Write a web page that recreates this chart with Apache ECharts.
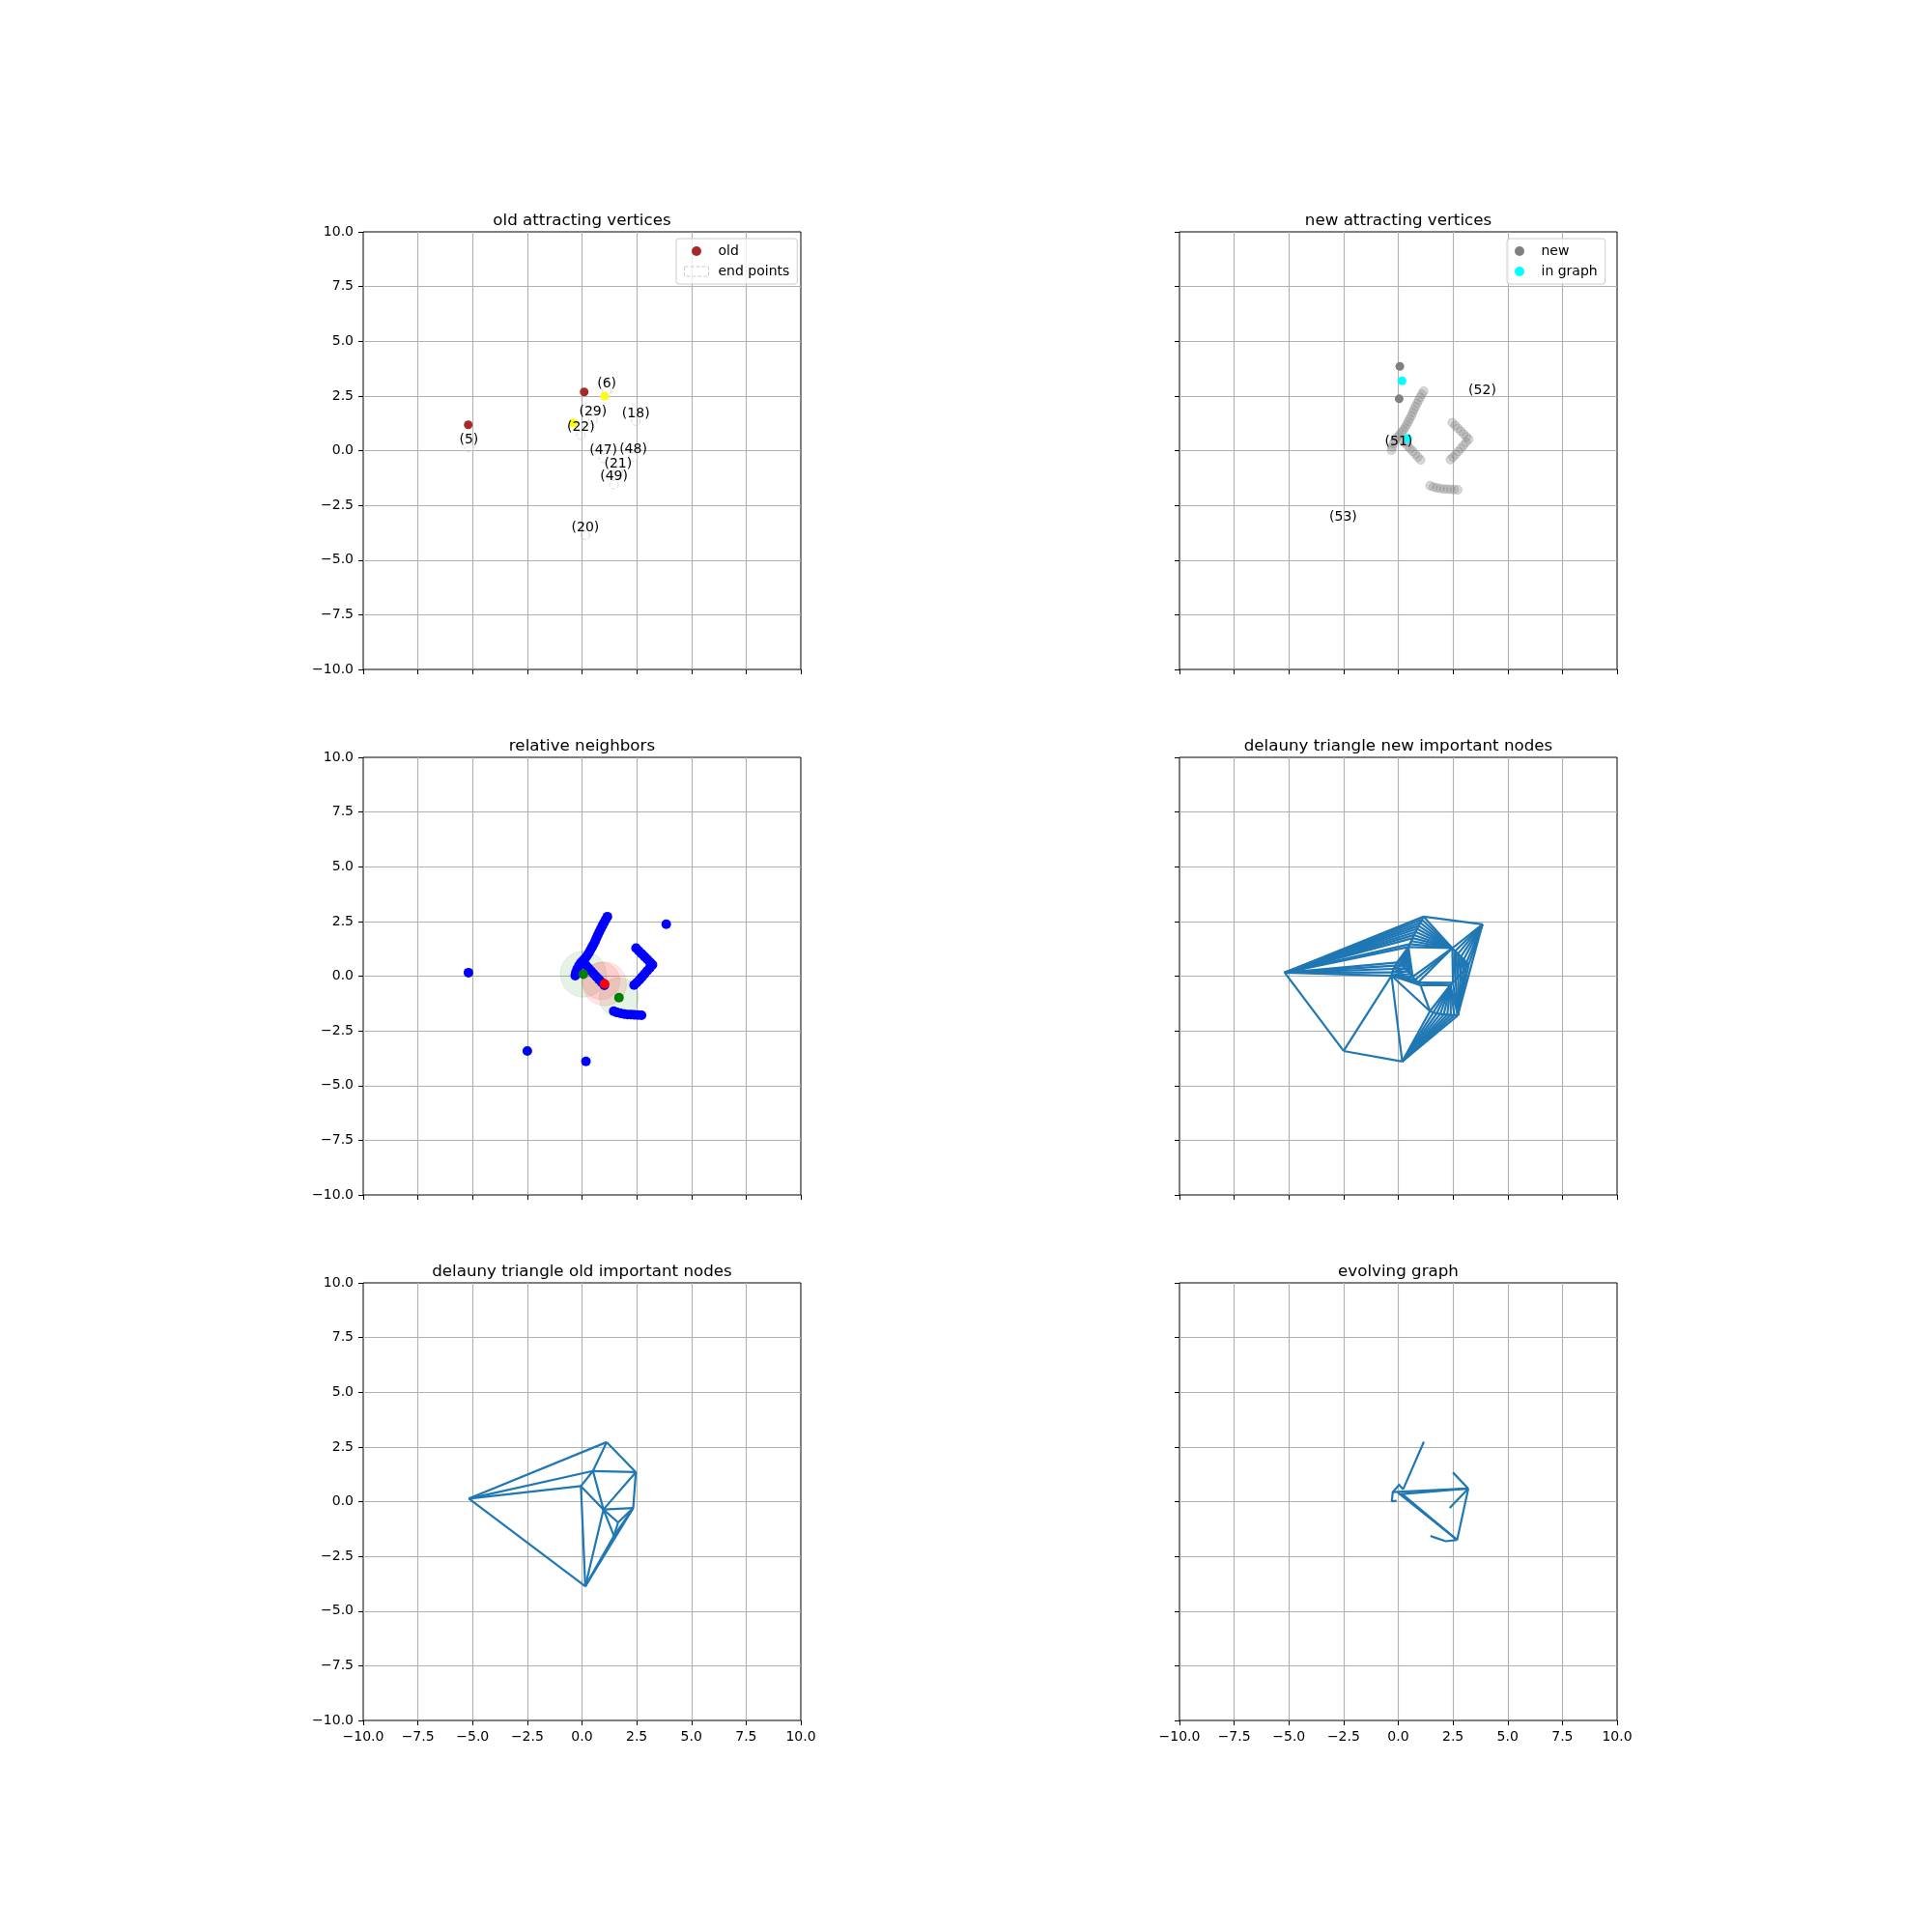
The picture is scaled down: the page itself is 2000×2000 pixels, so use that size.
<!DOCTYPE html>
<html>
<head>
<meta charset="utf-8">
<script src="https://cdn.jsdelivr.net/npm/echarts@6/dist/echarts.min.js"></script>
<style>
  body { margin: 0; background: #fff; }
  #chart { width: 2000px; height: 2000px; }
</style>
</head>
<body>
<div id="chart"></div>
<script>
  // panel titles
  var titles = ['old attracting vertices', 'new attracting vertices', 'relative neighbors',
    'delauny triangle new important nodes', 'delauny triangle old important nodes', 'evolving graph'];

  // old attracting vertices
  var oldPts = [[0.1, 2.68], [-5.2, 1.18]];
  var yellowPts = [[1.04, 2.49], [-0.41, 1.27]];
  var endNames = ['(5)', '(6)', '(29)', '(22)', '(18)', '(47)', '(48)', '(21)', '(49)', '(20)'];
  var endPts = [[-5.17, 0.14], [1.13, 2.72], [0.5, 1.4], [-0.05, 0.71], [2.46, 1.35],
    [0.98, -0.36], [2.34, -0.29], [1.65, -0.95], [1.46, -1.56], [0.15, -3.87]];

  // new attracting vertices
  var newPts = [[0.07, 3.85], [0.04, 2.37]];
  var inGraphPts = [[0.17, 3.19], [0.43, 0.56]];
  var newNames = ['(51)', '(52)', '(53)'];
  var newLabelPts = [[0.02, 0.06], [3.84, 2.39], [-2.52, -3.4]];
  var trailPts = [
    [1.16, 2.72], [1.08, 2.58], [1.0, 2.44], [0.93, 2.3], [0.86, 2.16], [0.79, 2.02], [0.72, 1.88],
    [0.66, 1.74], [0.6, 1.6], [0.53, 1.46], [0.46, 1.33], [0.39, 1.2], [0.32, 1.07], [0.24, 0.95],
    [0.16, 0.84], [0.06, 0.73],
    [-0.05, 0.62], [-0.14, 0.48], [-0.22, 0.33], [-0.28, 0.17], [-0.31, 0.02],
    [0.18, 0.5], [0.3, 0.36], [0.42, 0.23], [0.54, 0.1], [0.66, -0.03], [0.78, -0.16], [0.9, -0.29], [1.02, -0.42],
    [2.47, 1.28], [2.6, 1.15], [2.73, 1.02], [2.86, 0.89], [2.99, 0.76], [3.12, 0.63], [3.22, 0.52],
    [3.1, 0.38], [2.98, 0.24], [2.86, 0.1], [2.74, -0.04], [2.62, -0.18], [2.5, -0.3], [2.38, -0.41],
    [1.45, -1.6], [1.6, -1.66], [1.76, -1.7], [1.92, -1.73], [2.08, -1.75], [2.24, -1.76], [2.4, -1.77],
    [2.56, -1.78], [2.72, -1.79]
  ];

  // relative neighbors
  var outlierPts = [[-5.19, 0.16], [-2.5, -3.42], [0.18, -3.9], [3.85, 2.37]];
  var redPts = [[1.03, -0.35]];
  var greenPts = [[0.06, 0.09], [1.69, -0.98]];
  var greenCircles = [[0.06, 0.09, 1.05], [1.69, -0.98, 0.9]];
  var redCircles = [[1.03, -0.35, 1.0], [0.88, -0.22, 0.85]];

  // evolving graph
  var graphEdges = [
    [[1.17, 2.74], [0.22, 0.56]],
    [[-0.3, 0.0], [-0.25, 0.44], [0.04, 0.77], [0.22, 0.56]],
    [[-0.3, 0.02], [-0.08, 0.04]],
    [[-0.25, 0.44], [3.2, 0.6]],
    [[0.04, 0.34], [3.2, 0.6]],
    [[2.5, 1.33], [3.2, 0.6]],
    [[3.2, 0.6], [2.35, -0.29]],
    [[3.2, 0.6], [2.69, -1.75]],
    [[-0.03, 0.42], [2.69, -1.75]],
    [[0.19, 0.34], [2.69, -1.75]],
    [[2.69, -1.75], [2.17, -1.81], [1.73, -1.66], [1.47, -1.57]]
  ];

  var gridPos = [[376, 240], [1221, 240], [376, 784], [1221, 784], [376, 1328], [1221, 1328]];
  var side = 453;
  var font = 'DejaVu Sans';
  var tab = '#1f77b4';

  function fmt(v) {
    return (v < 0 ? '\u2212' : '') + Math.abs(v).toFixed(1);
  }

  // Bowyer-Watson, returns unique edges as coordinate pairs
  function delaunayEdges(pts) {
    var P = pts.map(function (p) { return [p[0], p[1]]; });
    var n = P.length, M = 1000;
    P.push([-M, -M], [M, -M], [0, M]);
    function circ(t) {
      var a = P[t[0]], b = P[t[1]], c = P[t[2]];
      var d = 2 * (a[0] * (b[1] - c[1]) + b[0] * (c[1] - a[1]) + c[0] * (a[1] - b[1]));
      if (Math.abs(d) < 1e-12) d = 1e-12;
      var a2 = a[0] * a[0] + a[1] * a[1], b2 = b[0] * b[0] + b[1] * b[1], c2 = c[0] * c[0] + c[1] * c[1];
      var ux = (a2 * (b[1] - c[1]) + b2 * (c[1] - a[1]) + c2 * (a[1] - b[1])) / d;
      var uy = (a2 * (c[0] - b[0]) + b2 * (a[0] - c[0]) + c2 * (b[0] - a[0])) / d;
      return [ux, uy, (a[0] - ux) * (a[0] - ux) + (a[1] - uy) * (a[1] - uy)];
    }
    var tris = [{v: [n, n + 1, n + 2]}];
    tris[0].c = circ(tris[0].v);
    for (var i = 0; i < n; i++) {
      var p = P[i], keep = [], cnt = {};
      tris.forEach(function (t) {
        var dx = p[0] - t.c[0], dy = p[1] - t.c[1];
        if (dx * dx + dy * dy < t.c[2]) {
          [[t.v[0], t.v[1]], [t.v[1], t.v[2]], [t.v[2], t.v[0]]].forEach(function (e) {
            var k = Math.min(e[0], e[1]) + '_' + Math.max(e[0], e[1]);
            if (cnt[k]) cnt[k].n++; else cnt[k] = {n: 1, e: e};
          });
        } else {
          keep.push(t);
        }
      });
      Object.keys(cnt).forEach(function (k) {
        if (cnt[k].n === 1) {
          var t = {v: [cnt[k].e[0], cnt[k].e[1], i]};
          t.c = circ(t.v);
          keep.push(t);
        }
      });
      tris = keep;
    }
    var seen = {}, out = [];
    tris.forEach(function (t) {
      if (t.v[0] >= n || t.v[1] >= n || t.v[2] >= n) return;
      [[t.v[0], t.v[1]], [t.v[1], t.v[2]], [t.v[2], t.v[0]]].forEach(function (e) {
        var k = Math.min(e[0], e[1]) + '_' + Math.max(e[0], e[1]);
        if (!seen[k]) { seen[k] = 1; out.push([P[e[0]], P[e[1]]]); }
      });
    });
    return out;
  }

  function circleItem(fill) {
    return function (params, api) {
      var c = api.coord([api.value(0), api.value(1)]);
      var s = api.size([api.value(2), api.value(2)]);
      return {type: 'circle', shape: {cx: c[0], cy: c[1], r: s[0]}, style: {fill: fill, stroke: fill, lineWidth: 1}};
    };
  }

  var grids = [], xAxes = [], yAxes = [], titleList = [];
  gridPos.forEach(function (g, i) {
    grids.push({left: g[0], top: g[1], width: side, height: side, show: true,
      borderColor: '#000', borderWidth: 1, backgroundColor: '#fff'});
    titleList.push({text: titles[i], left: g[0] + side / 2, top: g[1] - 20, textAlign: 'center', padding: 0,
      textStyle: {fontFamily: font, fontSize: 16.7, fontWeight: 'normal', color: '#000'}});
    var axisBase = {
      type: 'value', gridIndex: i, min: -10, max: 10, interval: 2.5,
      axisLine: {show: false, onZero: false},
      axisTick: {show: true, inside: false, length: 5, lineStyle: {color: '#000', width: 1}},
      splitLine: {show: true, showMinLine: false, showMaxLine: false, lineStyle: {color: '#b0b0b0', width: 1.1}}
    };
    xAxes.push(Object.assign({}, axisBase, {
      position: 'bottom',
      axisLabel: {show: i >= 4, margin: 10, formatter: fmt, color: '#000', fontFamily: font, fontSize: 14}
    }));
    yAxes.push(Object.assign({}, axisBase, {
      position: 'left',
      axisLabel: {show: i % 2 === 0, margin: 10, formatter: fmt, color: '#000', fontFamily: font, fontSize: 14}
    }));
  });

  function scatter(name, idx, data, size, style, extra) {
    return Object.assign({name: name, type: 'scatter', xAxisIndex: idx, yAxisIndex: idx,
      symbolSize: size, itemStyle: Object.assign({opacity: 1}, style), data: data, silent: true}, extra || {});
  }

  function edgeLines(idx, edges) {
    return {type: 'lines', coordinateSystem: 'cartesian2d', xAxisIndex: idx, yAxisIndex: idx,
      polyline: true, silent: true, lineStyle: {color: tab, width: 2.2, opacity: 1},
      data: edges.map(function (e) { return {coords: e}; })};
  }

  var labelStyle = {show: true, position: 'inside', offset: [0, -8], color: '#000', opacity: 1,
    fontFamily: font, fontSize: 14};

  var series = [
    // panel 1
    scatter('old', 0, oldPts, 9, {color: '#a52a2a'}),
    scatter('yellow', 0, yellowPts, 9, {color: '#ffff00'}),
    scatter('end points', 0, endPts, 9,
      {color: 'transparent', borderColor: '#d9d9d9', borderType: 'dashed', borderWidth: 1},
      {label: Object.assign({}, labelStyle, {formatter: function (p) { return endNames[p.dataIndex]; }})}),
    // panel 2
    scatter('trail', 1, trailPts, 9,
      {color: 'rgba(128,128,128,0.3)', borderColor: 'rgba(128,128,128,0.3)', borderWidth: 1}),
    scatter('new', 1, newPts, 9, {color: '#808080'}),
    scatter('in graph', 1, inGraphPts, 9, {color: '#00ffff'}),
    scatter('new labels', 1, newLabelPts, 2, {color: 'transparent'},
      {label: Object.assign({}, labelStyle, {formatter: function (p) { return newNames[p.dataIndex]; }})}),
    // panel 3
    scatter('neighbors', 2, trailPts.concat(outlierPts), 10, {color: '#0000ff'}),
    {type: 'custom', xAxisIndex: 2, yAxisIndex: 2, silent: true, renderItem: circleItem('rgba(0,128,0,0.1)'),
      encode: {x: 0, y: 1}, data: greenCircles},
    {type: 'custom', xAxisIndex: 2, yAxisIndex: 2, silent: true, renderItem: circleItem('rgba(255,0,0,0.1)'),
      encode: {x: 0, y: 1}, data: redCircles},
    scatter('red', 2, redPts, 10, {color: '#ff0000'}),
    scatter('green', 2, greenPts, 10, {color: '#008000'}),
    // panel 4, 5, 6
    edgeLines(3, delaunayEdges(trailPts.concat(outlierPts))),
    edgeLines(4, delaunayEdges(endPts)),
    edgeLines(5, graphEdges)
  ];

  var legendText = {fontFamily: font, fontSize: 14, color: '#000', padding: [0, 0, 0, 5]};
  var legendBox = {orient: 'vertical', itemWidth: 25, itemHeight: 10, itemGap: 7, padding: [6, 8],
    borderColor: '#cccccc', borderWidth: 1, borderRadius: 3, backgroundColor: 'rgba(255,255,255,0.8)',
    selectedMode: false, textStyle: legendText};

  var myChart = echarts.init(document.getElementById('chart'));
  var option = {
    animation: false,
    backgroundColor: '#fff',
    title: titleList,
    grid: grids,
    xAxis: xAxes,
    yAxis: yAxes,
    legend: [
      Object.assign({}, legendBox, {left: 700, top: 247, data: [
        {name: 'old', icon: 'circle'},
        {name: 'end points', icon: 'rect',
          itemStyle: {color: 'transparent', borderColor: '#cccccc', borderType: 'dashed', borderWidth: 1}}
      ]}),
      Object.assign({}, legendBox, {left: 1560, top: 247, data: [
        {name: 'new', icon: 'circle'},
        {name: 'in graph', icon: 'circle'}
      ]})
    ],
    series: series
  };
  myChart.setOption(option);
</script>
</body>
</html>
